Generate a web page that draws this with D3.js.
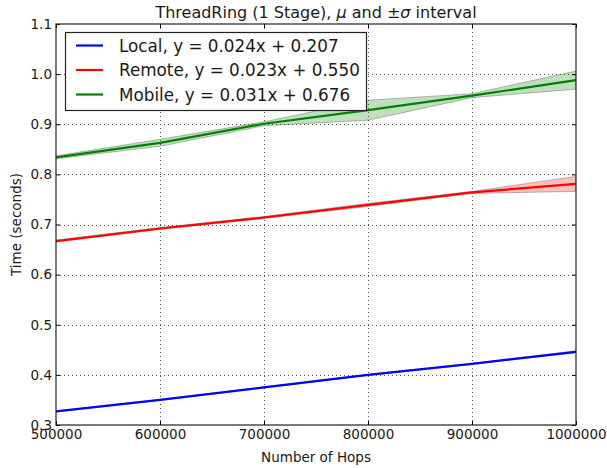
<!DOCTYPE html>
<html>
<head>
<meta charset="utf-8">
<script src="https://cdn.jsdelivr.net/npm/d3@7"></script>
<style>
  html, body { margin: 0; padding: 0; background: #fff; }
  svg { display: block; font-family: "DejaVu Sans", sans-serif; }
</style>
</head>
<body>
<svg id="chart" width="607" height="468"></svg>
<script>
// ---- data ----
const hops = [500000, 600000, 700000, 800000, 900000, 1000000];
const seriesNames = ["Local", "Remote", "Mobile"];
const legendLabels = ["Local, y = 0.024x + 0.207", "Remote, y = 0.023x + 0.550", "Mobile, y = 0.031x + 0.676"];
const localMean  = [0.327, 0.350, 0.375, 0.400, 0.422, 0.446];
const localSd    = [0.001, 0.001, 0.001, 0.001, 0.001, 0.002];
const remoteMean = [0.667, 0.692, 0.714, 0.739, 0.764, 0.781];
const remoteSd   = [0.002, 0.002, 0.002, 0.003, 0.002, 0.015];
const mobileMean = [0.834, 0.863, 0.901, 0.928, 0.957, 0.988];
const mobileSd   = [0.003, 0.007, 0.004, 0.020, 0.004, 0.018];
const xTicks = [500000, 600000, 700000, 800000, 900000, 1000000];
const yTicks = [0.3, 0.4, 0.5, 0.6, 0.7, 0.8, 0.9, 1.0, 1.1];
const colors = ["#0000ff", "#ff0000", "#008000"];

const series = [
  { name: seriesNames[0], mean: localMean, sd: localSd, color: colors[0], label: legendLabels[0] },
  { name: seriesNames[1], mean: remoteMean, sd: remoteSd, color: colors[1], label: legendLabels[1] },
  { name: seriesNames[2], mean: mobileMean, sd: mobileSd, color: colors[2], label: legendLabels[2] }
];

// ---- layout ----
const svg = d3.select("#chart");
const L = 56, R = 576, T = 24, B = 425;
const x = d3.scaleLinear().domain([500000, 1000000]).range([L, R]);
const y = d3.scaleLinear().domain([0.3, 1.1]).range([B, T]);

svg.append("defs").append("clipPath").attr("id", "clip")
  .append("rect").attr("x", L).attr("y", T).attr("width", R - L).attr("height", B - T);

// grid
const grid = svg.append("g");
grid.selectAll("line.vx").data(xTicks.slice(1, -1)).join("line")
  .attr("x1", d => Math.round(x(d)) + 0.5).attr("x2", d => Math.round(x(d)) + 0.5)
  .attr("y1", T).attr("y2", B)
  .attr("stroke", "#555").attr("stroke-width", 1).attr("stroke-dasharray", "1,3");
grid.selectAll("line.hy").data(yTicks.slice(1, -1)).join("line")
  .attr("y1", d => Math.round(y(d)) + 0.5).attr("y2", d => Math.round(y(d)) + 0.5)
  .attr("x1", L).attr("x2", R)
  .attr("stroke", "#555").attr("stroke-width", 1).attr("stroke-dasharray", "1,3");

// bands and lines
const plot = svg.append("g").attr("clip-path", "url(#clip)");
const area = d3.area()
  .x((d, i) => x(hops[i]))
  .y0(d => y(d[0] - d[1]))
  .y1(d => y(d[0] + d[1]));
const line = d3.line().x((d, i) => x(hops[i])).y(d => y(d));

series.forEach(s => {
  const pairs = s.mean.map((m, i) => [m, s.sd[i]]);
  plot.append("path").datum(pairs)
    .attr("d", area)
    .attr("fill", s.color).attr("fill-opacity", 0.25)
    .attr("stroke", "#000").attr("stroke-opacity", 0.25).attr("stroke-width", 1);
});
series.forEach(s => {
  plot.append("path").datum(s.mean)
    .attr("d", line)
    .attr("fill", "none").attr("stroke", s.color).attr("stroke-width", 2.2);
});

// axes (ticks inward, all sides)
const tickLen = 4;
const axB = d3.axisBottom(x).tickValues(xTicks).tickSize(-tickLen).tickPadding(4).tickFormat(d3.format("d"));
const axT = d3.axisTop(x).tickValues(xTicks).tickSize(-tickLen).tickFormat("");
const axL = d3.axisLeft(y).tickValues(yTicks).tickSize(-tickLen).tickPadding(4).tickFormat(d3.format(".1f"));
const axR = d3.axisRight(y).tickValues(yTicks).tickSize(-tickLen).tickFormat("");

function styleAxis(g) {
  g.select(".domain").remove();
  g.selectAll(".tick line").attr("stroke", "#000");
  g.selectAll(".tick text").attr("fill", "#1a1a1a").style("font-size", "13.5px").style("font-family", "DejaVu Sans");
}
svg.append("g").attr("transform", `translate(0,${B})`).call(axB).call(styleAxis);
svg.append("g").attr("transform", `translate(0,${T})`).call(axT).call(styleAxis);
svg.append("g").attr("transform", `translate(${L},0)`).call(axL).call(styleAxis);
svg.append("g").attr("transform", `translate(${R},0)`).call(axR).call(styleAxis);

// frame
svg.append("rect").attr("x", L).attr("y", T).attr("width", R - L).attr("height", B - T)
  .attr("fill", "none").attr("stroke", "#222").attr("stroke-width", 1.2);

// title
const title = svg.append("text").attr("x", (L + R) / 2).attr("y", 18)
  .attr("text-anchor", "middle").style("font-size", "16px").attr("fill", "#1a1a1a");
title.append("tspan").text("ThreadRing (1 Stage), ");
title.append("tspan").style("font-style", "italic").text("μ");
title.append("tspan").text(" and ±");
title.append("tspan").style("font-style", "italic").text("σ");
title.append("tspan").text(" interval");

// axis labels
svg.append("text").attr("x", (L + R) / 2).attr("y", 462)
  .attr("text-anchor", "middle").style("font-size", "13.5px").attr("fill", "#1a1a1a")
  .text("Number of Hops");
svg.append("text").attr("transform", `translate(21,${(T + B) / 2}) rotate(-90)`)
  .attr("text-anchor", "middle").style("font-size", "13.5px").attr("fill", "#1a1a1a")
  .text("Time (seconds)");

// legend
const lg = svg.append("g");
lg.append("rect").attr("x", 65.5).attr("y", 32.5).attr("width", 301).attr("height", 78)
  .attr("fill", "#fff").attr("stroke", "#222").attr("stroke-width", 1.2);
series.forEach((s, i) => {
  const cy = 45.5 + i * 24.5;
  lg.append("line").attr("x1", 76).attr("x2", 103).attr("y1", cy).attr("y2", cy)
    .attr("stroke", s.color).attr("stroke-width", 2.2);
  lg.append("text").attr("x", 119).attr("y", cy).attr("dy", "0.36em")
    .style("font-size", "16.8px").attr("fill", "#1a1a1a").text(s.label);
});
</script>
</body>
</html>
